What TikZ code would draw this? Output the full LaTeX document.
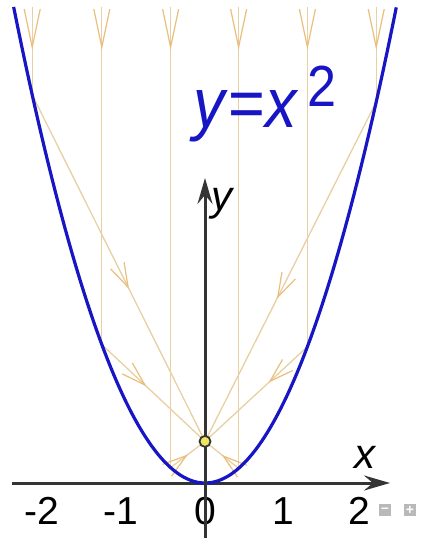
\documentclass[tikz,border=0pt]{standalone}
\usepackage{fontspec}
\setmainfont{Liberation Sans}
\usetikzlibrary{arrows.meta,decorations.markings}

\definecolor{curveblue}{RGB}{24,22,196}
\definecolor{raytan}{RGB}{232,208,162}
\definecolor{barbtan}{RGB}{234,190,124}
\definecolor{axisgray}{RGB}{52,52,52}
\definecolor{dotyellow}{RGB}{240,230,96}

\begin{document}
\begin{tikzpicture}[
  x=80pt,y=83.2pt,
  ray/.style={draw=raytan,line width=1.3pt},
  barb/.style={decoration={markings,mark=at position #1 with
    {\arrow[barbtan]{Straight Barb[length=24pt,width=15pt,line width=1.2pt]}}},postaction={decorate}},
  longbarb/.style={decoration={markings,mark=at position #1 with
    {\arrow[barbtan]{Straight Barb[length=38pt,width=16pt,line width=1.2pt]}}},postaction={decorate}},
  curve/.style={draw=curveblue,line width=3.2pt},
  axis/.style={draw=axisgray,line width=3pt,-{Stealth[length=26pt,width=15pt,inset=9pt]}},
  tick/.style={font=\fontsize{39}{39}\selectfont,text=black,inner sep=0pt},
  axlabel/.style={font=\fontsize{42}{42}\selectfont\itshape,text=black,inner sep=0pt},
  eqn/.style={font=\fontsize{70}{70}\selectfont,text=curveblue,inner sep=0pt,xscale=0.9},
  fdot/.style={circle,draw=axisgray,fill=dotyellow,line width=1.8pt,inner sep=0pt,minimum size=11pt},
  btn/.style={fill=gray!55,minimum size=12pt,inner sep=0pt,text=white,font=\fontsize{14}{14}\selectfont\bfseries},
]
\path[fill=white,use as bounding box] (-2.5625,-0.661) rectangle (2.8125,5.805);

\pgfmathsetmacro{\ytop}{5.72}   % where the incoming rays start
\coordinate (F) at (0,0.5);      % the point the reflected rays meet

% ---------- incoming and reflected rays ----------
\foreach \xr/\pa in {-2.16/0.56, -1.29/0.43, -0.43/0.5, 0.42/0.5, 1.28/0.38, 2.14/0.58} {
  \coordinate (hit) at (\xr,{\xr*\xr});
  \draw[ray,longbarb=43pt] (\xr,\ytop) -- (hit);
  \draw[ray,barb=\pa] (hit) -- (F);
}

% ---------- axes and parabola ----------
\coordinate (xstart) at (-2.4125,0);
\coordinate (xend) at (2.3125,0);
\coordinate (ystart) at (0,-0.67);
\coordinate (yend) at (0,3.666);

\foreach \xv/\lab in {-2.04/-2, -1.05/-1, 0/0, 0.975/1, 1.925/2}
  \node[tick] (t\lab) at (\xv,-0.337) {\lab};

\draw[axis] (xstart) -- (xend);
\draw[curve] plot[domain=-2.392:2.392,samples=120] (\x,{\x*\x});
\draw[axis] (ystart) -- (yend);

\node[fdot] (focus) at (F) {};

\node[axlabel,anchor=base west] (xlab) at (1.86,0.18) {x};
\node[axlabel,anchor=base west] (ylab) at (0.08,3.28) {y};

\node[eqn,anchor=base west] (title) at (-0.14,4.267)
  {\textit{y}=\textit{x}\hspace{10pt}\raisebox{21pt}{\fontsize{58}{58}\selectfont 2}};

% zoom buttons
\node[btn] (zoomout) at (2.25,-0.3245) {–};
\node[btn] (zoomin) at (2.5625,-0.3245) {+};
\end{tikzpicture}
\end{document}
